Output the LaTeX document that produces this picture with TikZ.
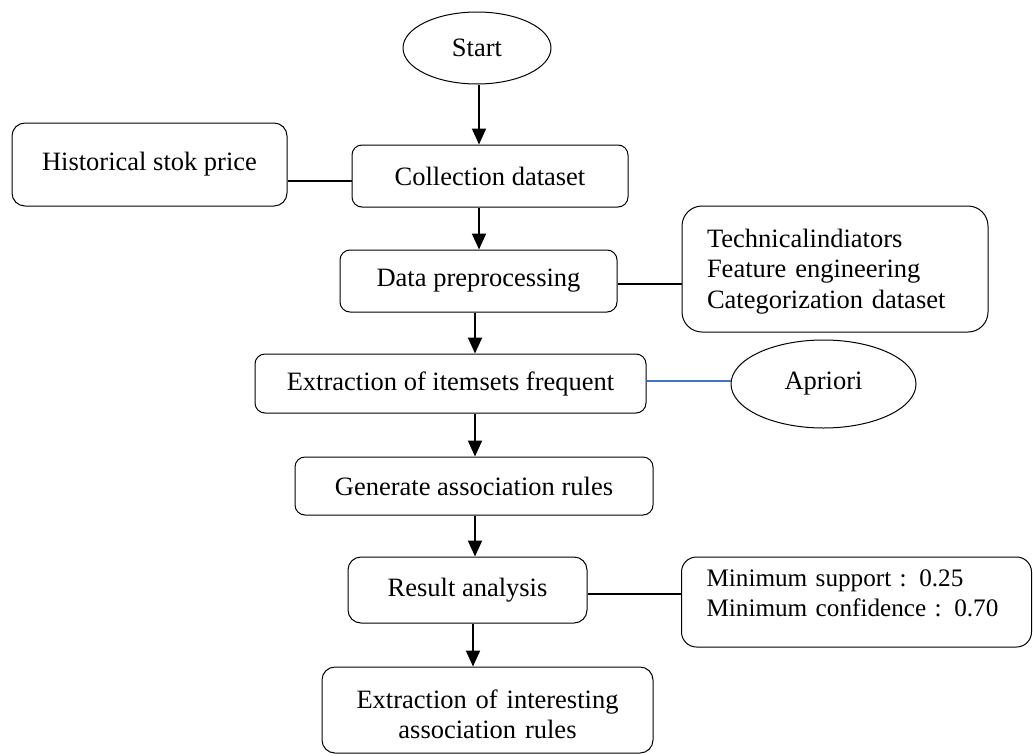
\documentclass[tikz,border=0pt]{standalone}
\usepackage{fontspec}
\setmainfont{Liberation Serif}
\usetikzlibrary{arrows.meta,shapes.geometric}
\definecolor{linkblue}{RGB}{68,114,196}
\begin{document}
\begin{tikzpicture}[x=1pt,y=-1pt,
  every node/.style={font=\fontsize{26.5}{30.5}\selectfont, inner sep=0pt},
  proc/.style={draw, line width=1pt, rounded corners=10pt},
  oval/.style={draw, line width=1pt, ellipse},
  flow/.style={line width=2pt, -{Triangle[length=16pt,width=14pt]}},
  link/.style={line width=2pt},
  bluelink/.style={line width=1.5pt, draw=linkblue}]
\useasboundingbox (0,0) rectangle (1033,755);

\node[oval, minimum width=148pt, minimum height=72pt] (start) at (477,48) {Start};
\node[proc, rounded corners=13pt, minimum width=275pt, minimum height=83pt] (hist) at (149.5,164.5) {Historical stok price};
\node[proc, minimum width=276pt, minimum height=62pt] (coll) at (490,176) {Collection dataset};
\node[proc, minimum width=277pt, minimum height=62pt] (prep) at (478.5,281) {Data preprocessing};
\node[proc, rounded corners=20pt, minimum width=306pt, minimum height=126pt, align=left, text width=256pt, text depth=62pt] (tech) at (835,269) {\mbox{Technicalindiators}\\\mbox{Feature engineering}\\\mbox{Categorization dataset}};
\node[proc, minimum width=391pt, minimum height=59pt] (extr) at (450.5,383.5) {Extraction of itemsets frequent};
\node[oval, minimum width=185pt, minimum height=88pt] (apri) at (823.5,384) {Apriori};
\node[proc, minimum width=358pt, minimum height=58pt] (gen) at (474,486) {Generate association rules};
\node[proc, rounded corners=13pt, minimum width=239pt, minimum height=66pt] (res) at (467.5,590) {Result analysis};
\node[proc, rounded corners=15pt, minimum width=350pt, minimum height=90pt, align=left, text width=300pt, text depth=47pt, font=\fontsize{25.2}{30}\selectfont] (mins) at (856.5,602) {\mbox{Minimum support : 0.25}\\\mbox{Minimum confidence : 0.70}};
\node[proc, rounded corners=13pt, minimum width=331pt, minimum height=86pt, align=center, text width=320pt, text depth=22pt] (intr) at (487.5,710) {Extraction of interesting\\association rules};

\coordinate (axA) at (479,0);
\coordinate (axB) at (475,0);
\coordinate (axC) at (473,0);

\draw[flow] (start.south -| axA) -- (coll.north -| axA);
\draw[flow] (coll.south -| axA) -- (prep.north -| axA);
\draw[flow] (prep.south -| axB) -- (extr.north -| axB);
\draw[flow] (extr.south -| axB) -- (gen.north -| axB);
\draw[flow] (gen.south -| axB) -- (res.north -| axB);
\draw[flow] (res.south -| axC) -- (intr.north -| axC);

\draw[link] ([yshift=-16.5pt]hist.east) -- ([yshift=-5pt]coll.west);
\draw[link] ([yshift=-2.5pt]prep.east) -- ([yshift=-14.5pt]tech.west);
\draw[bluelink] ([yshift=2.5pt]extr.east) -- ([yshift=3pt]apri.west);
\draw[link] ([yshift=-4pt]res.east) -- ([yshift=8pt]mins.west);
\end{tikzpicture}
\end{document}
